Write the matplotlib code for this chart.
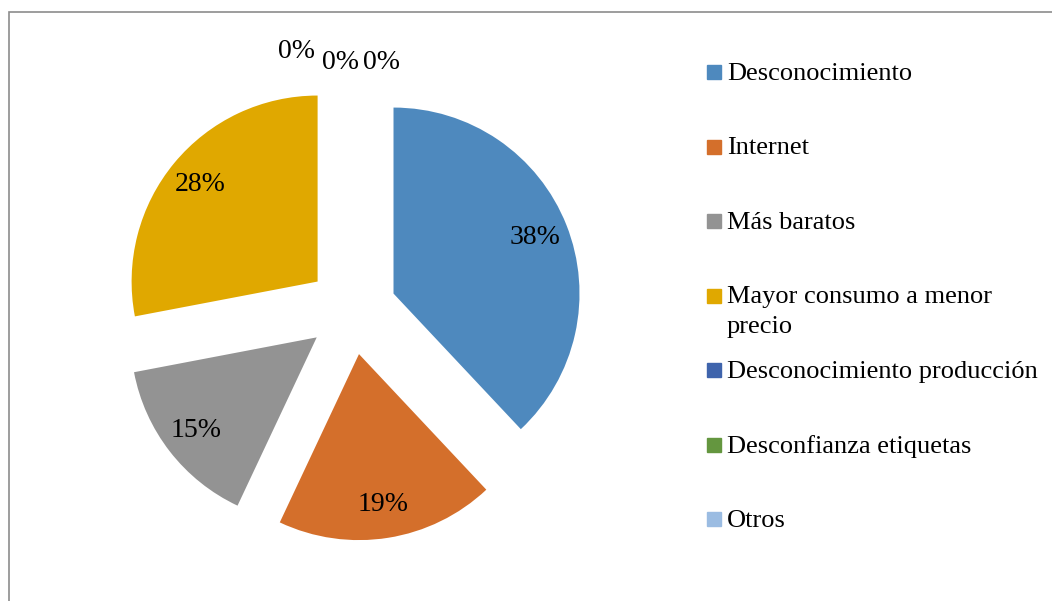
import matplotlib.pyplot as plt
from matplotlib.patches import Rectangle

plt.rcParams['font.family'] = ['Liberation Serif', 'DejaVu Serif']

# Data
categories = ["Desconocimiento", "Internet", "Más baratos",
              "Mayor consumo a menor\nprecio", "Desconocimiento producción",
              "Desconfianza etiquetas", "Otros"]
values = [38, 19, 15, 28, 0, 0, 0]
colors = ["#4E89BE", "#D46F2B", "#939393", "#E0A800",
          "#3F64AC", "#64963F", "#9BBCE2"]

# where the labels of the empty slices sit (data units)
zero_label_pos = [(-0.30, 1.39), (-0.06, 1.33), (0.16, 1.33)]

W, H = 1052, 601
fig = plt.figure(figsize=(W / 100, H / 100), dpi=100)

# pie axes: centre at (352, 310) px, radius 186 px
R = 186
cx, cy = 352, 310
lim = 1.5
ax = fig.add_axes([(cx - lim * R) / W, (H - cy - lim * R) / H,
                   2 * lim * R / W, 2 * lim * R / H])

wedges, texts, autotexts = ax.pie(
    values, colors=colors, startangle=90, counterclock=False,
    explode=[0.24] * len(values), autopct='%1.0f%%', pctdistance=0.82,
    wedgeprops=dict(linewidth=0),
    textprops=dict(fontsize=20, color="black"))

zi = 0
for v, t in zip(values, autotexts):
    if v == 0:
        t.set_position(zero_label_pos[zi])
        zi += 1

ax.set_xlim(-lim, lim)
ax.set_ylim(-lim, lim)
ax.set_aspect('equal')
ax.axis('off')

# legend drawn in figure pixels
to_fig = lambda x, y: (x / W, 1 - y / H)
for i, (lab, col) in enumerate(zip(categories, colors)):
    base = 80 + i * 74.5
    x0, y0 = to_fig(707, base - 1)
    fig.patches.append(Rectangle((x0, y0), 14 / W, 14 / H, color=col,
                                 transform=fig.transFigure, figure=fig))
    tx, ty = to_fig(727, base)
    for j, ln in enumerate(lab.split("\n")):
        fig.text(tx, ty - j * 29.5 / H, ln, fontsize=19, va='baseline',
                 ha='left')

# outer frame
fx, fy = to_fig(8.5, 11.5)
fig.patches.append(Rectangle((fx, fy - 2), 2, 2, fill=False,
                             edgecolor="#8C8C8C", linewidth=1.2,
                             transform=fig.transFigure, figure=fig))

fig.savefig("out.png", dpi=100, facecolor="white")
